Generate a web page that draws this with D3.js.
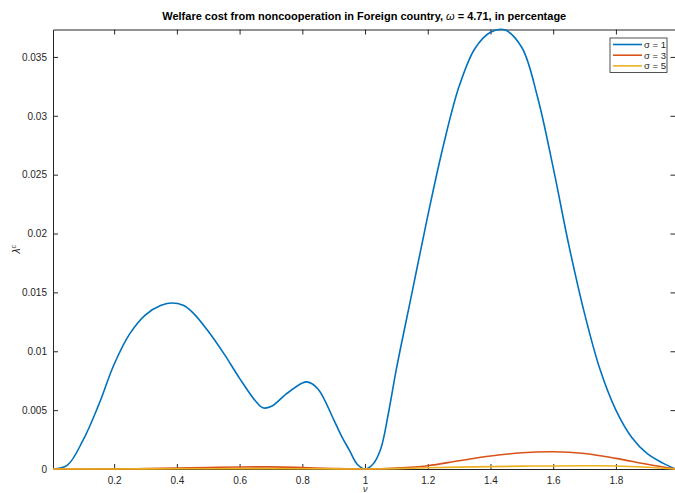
<!DOCTYPE html>
<html>
<head>
<style>
body { margin: 0; background: #fff; }
text { font-family: "Liberation Sans", Arial, Helvetica, sans-serif; }
</style>
</head>
<body>
<svg id="chart" width="675" height="493"></svg>
<script src="https://d3js.org/d3.v7.min.js"></script>
<script>
    // values
    var nu_sigma1 = [0.005, 0.05, 0.1, 0.15, 0.2, 0.25, 0.3, 0.35, 0.385, 0.42, 0.45, 0.5, 0.55, 0.6, 0.65, 0.674, 0.7, 0.75, 0.8, 0.815, 0.85, 0.9, 0.925, 0.95, 0.975, 1.0,
                     1.025, 1.05, 1.075, 1.1, 1.15, 1.2, 1.25, 1.3, 1.35, 1.4, 1.445, 1.5, 1.55, 1.6, 1.65, 1.7, 1.75, 1.8, 1.85, 1.9, 1.95, 1.99];
    var lambda_sigma1 = [0, 0.0003, 0.0024, 0.0054, 0.0089, 0.0115, 0.0131, 0.0139, 0.0141, 0.0139, 0.0133, 0.0117, 0.0098, 0.0077, 0.0058, 0.0052, 0.0053, 0.0064, 0.0073, 0.0074, 0.0068, 0.0042, 0.0028, 0.0016, 0.0004, 0,
                         0.0004, 0.0017, 0.0048, 0.0085, 0.0150, 0.0215, 0.0275, 0.0325, 0.0357, 0.0371, 0.0373, 0.0358, 0.0316, 0.0256, 0.0190, 0.0132, 0.0084, 0.0050, 0.0027, 0.0013, 0.0005, 0];

    var nu_sigma3 = [0.005, 0.2, 0.3, 0.4, 0.5, 0.6, 0.7, 0.8, 0.9, 1.0, 1.1, 1.2, 1.3, 1.4, 1.5, 1.6, 1.7, 1.8, 1.9, 1.99];
    var lambda_sigma3 = [0, 0.00001, 0.00003, 0.00008, 0.00013, 0.00017, 0.00018, 0.00012, 0.00004, 0, 0.00008, 0.00028, 0.0007, 0.0011, 0.00138, 0.00147, 0.00132, 0.0009, 0.0004, 0];

    var nu_sigma5 = [0.005, 0.3, 0.5, 0.7, 0.9, 1.0, 1.1, 1.2, 1.3, 1.4, 1.5, 1.6, 1.7, 1.8, 1.9, 1.99];
    var lambda_sigma5 = [0, 0.00001, 0.00002, 0.00003, 0.00001, 0, 0.00003, 0.0001, 0.00016, 0.0002, 0.00024, 0.00026, 0.00027, 0.00026, 0.00015, 0];

    var series_labels = ["\u03c3 = 1", "\u03c3 = 3", "\u03c3 = 5"];
    var series_colors = ["#0072BD", "#D95319", "#EDB120"];
    var x_ticks = [0.2, 0.4, 0.6, 0.8, 1, 1.2, 1.4, 1.6, 1.8];
    var y_ticks = [0, 0.005, 0.01, 0.015, 0.02, 0.025, 0.03, 0.035];

    const svg = d3.select("#chart");
    const plot_left = 53, plot_right = 675.5, plot_top = 29.5, plot_bottom = 469;
    const axis_color = "#262626";
    const tick_len = 5;

    var x = d3.scaleLinear().domain([0.005, 1.99]).range([plot_left, plot_right]);
    var y = d3.scaleLinear().domain([0, 0.03733]).range([plot_bottom, plot_top]);

    var series = [
        d3.zip(nu_sigma1, lambda_sigma1),
        d3.zip(nu_sigma3, lambda_sigma3),
        d3.zip(nu_sigma5, lambda_sigma5)
    ];

    drawAxes();
    drawLines();
    drawLegend();
    drawTitles();

    function drawAxes(){
        // bottom axis, ticks pointing inwards
        svg.append("g")
            .attr("transform", "translate(0," + plot_bottom + ")")
            .call(d3.axisBottom(x).tickValues(x_ticks).tickSizeInner(-tick_len).tickSizeOuter(0).tickPadding(8).tickFormat(d3.format("")))
            .call(styleAxis);
        // top border with ticks
        svg.append("g")
            .attr("transform", "translate(0," + plot_top + ")")
            .call(d3.axisTop(x).tickValues(x_ticks).tickSizeInner(-tick_len).tickSizeOuter(0).tickFormat(""))
            .call(styleAxis);
        // left axis
        svg.append("g")
            .attr("transform", "translate(" + plot_left + ",0)")
            .call(d3.axisLeft(y).tickValues(y_ticks).tickSizeInner(-tick_len).tickSizeOuter(0).tickPadding(6).tickFormat(d3.format("")))
            .call(styleAxis);
        // right border
        svg.append("g")
            .attr("transform", "translate(" + plot_right + ",0)")
            .call(d3.axisRight(y).tickValues(y_ticks).tickSizeInner(-tick_len).tickSizeOuter(0).tickFormat(""))
            .call(styleAxis);
    }

    function styleAxis(g){
        g.select(".domain").attr("stroke", axis_color).attr("stroke-width", 1);
        g.selectAll(".tick line").attr("stroke", axis_color).attr("stroke-width", 1);
        g.selectAll(".tick text")
            .attr("fill", axis_color)
            .attr("font-size", "10px")
            .attr("font-family", "'Liberation Sans', Arial, sans-serif");
    }

    function drawLines(){
        var line = d3.line()
            .x(d => x(d[0]))
            .y(d => y(Math.max(0, d[1])))
            .curve(d3.curveCatmullRom.alpha(0.5));

        svg.append("g")
            .selectAll("path.series")
            .data(series)
            .enter()
            .append("path")
            .attr("class", "series")
            .attr("d", line)
            .attr("fill", "none")
            .attr("stroke", (d, i) => series_colors[i])
            .attr("stroke-width", 1.6);
    }

    function drawLegend(){
        var lg = svg.append("g").attr("transform", "translate(610,38)");
        lg.append("rect")
            .attr("width", 57)
            .attr("height", 34.5)
            .attr("fill", "#fff")
            .attr("stroke", axis_color)
            .attr("stroke-width", 0.8);

        var rows = lg.selectAll("g.row")
            .data(series_labels)
            .enter()
            .append("g")
            .attr("transform", (d, i) => "translate(0," + (6.5 + i * 10.7) + ")");
        rows.append("line")
            .attr("x1", 3).attr("x2", 32)
            .attr("stroke", (d, i) => series_colors[i])
            .attr("stroke-width", 1.6);
        rows.append("text")
            .attr("x", 34)
            .attr("y", 3.3)
            .attr("font-size", "9.5px")
            .attr("fill", axis_color)
            .text(d => d);
    }

    function drawTitles(){
        var t = svg.append("text")
            .attr("x", (plot_left + plot_right) / 2)
            .attr("y", 20)
            .attr("text-anchor", "middle")
            .attr("font-size", "11px")
            .attr("font-weight", "bold")
            .attr("fill", "#000");
        t.append("tspan").text("Welfare cost from noncooperation in Foreign country, ");
        t.append("tspan").attr("font-weight", "normal").attr("font-style", "italic").text("\u03c9");
        t.append("tspan").text(" = 4.71, in percentage");

        // x label right at the bottom edge
        svg.append("text")
            .attr("x", (plot_left + plot_right) / 2 + 1)
            .attr("y", 492)
            .attr("text-anchor", "middle")
            .attr("font-size", "9px")
            .attr("font-style", "italic")
            .attr("fill", axis_color)
            .text("\u03bd");

        var yl = svg.append("text")
            .attr("transform", "translate(20," + ((plot_top + plot_bottom) / 2) + ") rotate(-90)")
            .attr("text-anchor", "middle")
            .attr("font-size", "10px")
            .attr("fill", axis_color);
        yl.append("tspan").attr("font-style", "italic").text("\u03bb");
        yl.append("tspan").attr("font-size", "7px").attr("dy", -4).text("c");
    }
</script>
</body>
</html>
